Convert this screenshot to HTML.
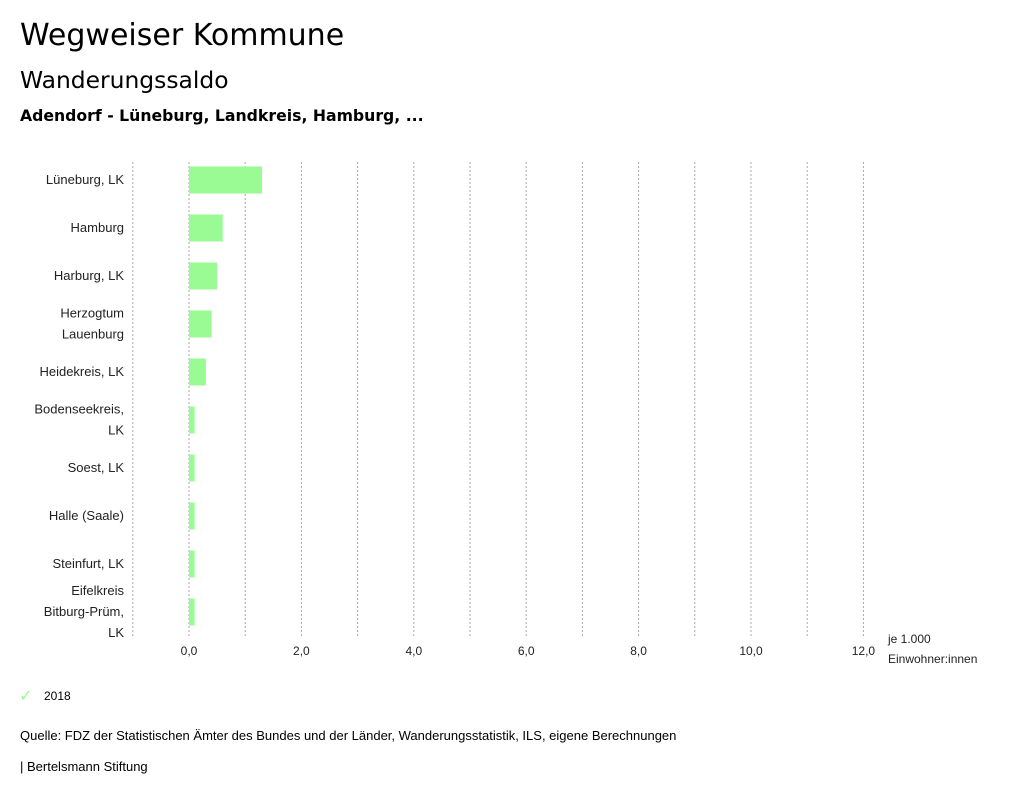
<!DOCTYPE html>
<html><head><meta charset="utf-8"><style>
body{margin:0;background:#fff;font-family:"Liberation Sans","DejaVu Sans",sans-serif;}
#root{position:relative;width:1024px;height:799px;overflow:hidden;}
.t{position:absolute;white-space:nowrap;color:#000;}
.d{font-family:"DejaVu Sans",sans-serif;}
</style></head><body>
<div id="root">
<div class="t d" style="left:20px;top:18px;font-size:30px">Wegweiser Kommune</div>
<div class="t d" style="left:20px;top:66px;font-size:23.4px">Wanderungssaldo</div>
<div class="t d" style="left:20px;top:106px;font-size:15.7px;font-weight:bold">Adendorf - Lüneburg, Landkreis, Hamburg, ...</div>
<svg id="chart" width="1024" height="799" style="position:absolute;left:0;top:0"></svg>
<div class="t" style="left:19px;top:686px;font-size:16px;color:#9afa94">✓</div>
<div class="t" style="left:44px;top:689px;font-size:12px">2018</div>
<div class="t" style="left:20px;top:728px;font-size:13px">Quelle: FDZ der Statistischen Ämter des Bundes und der Länder, Wanderungsstatistik, ILS, eigene Berechnungen</div>
<div class="t" style="left:20px;top:759px;font-size:13px">| Bertelsmann Stiftung</div>
</div>
<script>
const categories=[["Lüneburg, LK"],["Hamburg"],["Harburg, LK"],["Herzogtum","Lauenburg"],["Heidekreis, LK"],["Bodenseekreis,","LK"],["Soest, LK"],["Halle (Saale)"],["Steinfurt, LK"],["Eifelkreis","Bitburg-Prüm,","LK"]];
const values2018=[1.3,0.6,0.5,0.4,0.3,0.1,0.1,0.1,0.1,0.1];
const tickValues=[0,2,4,6,8,10,12];
const tickLabels=["0,0","2,0","4,0","6,0","8,0","10,0","12,0"];
const gridValues=[-1,0,1,2,3,4,5,6,7,8,9,10,11,12];
const NS="http://www.w3.org/2000/svg";
const svg=document.getElementById('chart');
const x=v=>189+v*56.2;
const rowY=i=>180+i*48;
function el(tag,attrs){const e=document.createElementNS(NS,tag);for(const k in attrs)e.setAttribute(k,attrs[k]);svg.appendChild(e);return e;}
gridValues.forEach(g=>{
 const l=el('line',{x1:x(g),x2:x(g),y1:162,y2:636,stroke:'#aaa','stroke-dasharray':'2,2','stroke-width':1});
 
 
});
values2018.forEach((v,i)=>{
 const r=el('rect',{x:x(0),y:rowY(i)-13.5,width:x(v)-x(0),height:27,fill:'#9afa94'});
 
 
 const lines=categories[i];
 lines.forEach((s,j)=>{
  const t=el('text',{x:124,y:rowY(i)+4+(j-(lines.length-1)/2)*21,'text-anchor':'end','font-size':13,fill:'#222'});
  t.textContent=s;
  
  
 });
});
tickValues.forEach((v,i)=>{
 const t=el('text',{x:x(v),y:655,'text-anchor':'middle','font-size':12,fill:'#222'});
 t.textContent=tickLabels[i];
 
 
});
[["je 1.000",643],["Einwohner:innen",663]].forEach(a=>{
 const t=el('text',{x:888,y:a[1],'font-size':12,fill:'#222'});
 t.textContent=a[0];
 
 
});
</script>
</body></html>
